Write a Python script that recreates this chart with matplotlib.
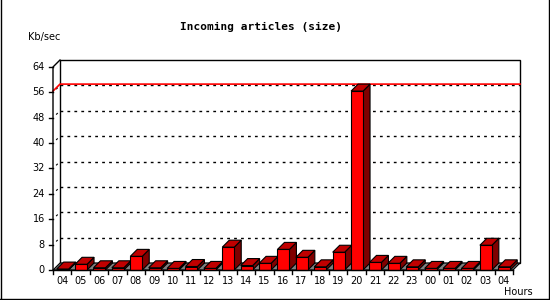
import matplotlib
matplotlib.use("Agg")
import matplotlib.pyplot as plt
from matplotlib.patches import Polygon, Rectangle
from matplotlib.lines import Line2D

# data
hours = ["04", "05", "06", "07", "08", "09", "10", "11", "12", "13", "14", "15", "16",
         "17", "18", "19", "20", "21", "22", "23", "00", "01", "02", "03", "04"]
kb_per_sec = [0.3, 1.8, 0.7, 0.7, 4.3, 0.7, 0.5, 1.1, 0.5, 7.2, 1.4, 2.1, 6.5,
              4.0, 1.0, 5.6, 56.4, 2.4, 2.1, 1.0, 0.5, 0.5, 0.5, 7.8, 1.0]
y_ticks = [0, 8, 16, 24, 32, 40, 48, 56, 64]
title = "Incoming articles (size)"

# 3d look
DX = 0.38      # depth offset in slots
DY = 2.2       # depth offset in value units
BAR_L, BAR_R = 0.2, 0.85
n = len(hours)
ymax = 64

fig = plt.figure(figsize=(5.5, 3), dpi=100)
fig.patch.set_facecolor("white")

# pixel layout of the plot block
ax = fig.add_axes([53 / 550, 30 / 300, 467 / 550, 210 / 300])
ax.set_xlim(0, n + DX)
ax.set_ylim(0, ymax + DY)
ax.axis("off")

kw = dict(clip_on=False)

# back wall
ax.add_patch(Rectangle((DX, DY), n, ymax, facecolor="white", edgecolor="black", lw=1, zorder=1, **kw))

# grid lines on back wall + short diagonals to front axis
for t in y_ticks[1:-1]:
    ax.plot([DX, n + DX], [t + DY, t + DY], color="black", lw=1, ls=(0, (2, 3)), zorder=2, **kw)
    ax.plot([0, DX], [t, t + DY], color="black", lw=0.8, ls=(4, (2, 6)), zorder=2, **kw)

# peak line
peak = max(kb_per_sec)
ax.plot([0, DX, n + DX], [peak, peak + DY, peak + DY], color="red", lw=1.2, zorder=3, **kw)

# floor
ax.add_patch(Polygon([(0, 0), (n, 0), (n + DX, DY), (DX, DY)], closed=True,
                     facecolor="#808080", edgecolor="black", lw=0.8, zorder=4, **kw))

# bars
for i, v in enumerate(kb_per_sec):
    x0, x1 = i + BAR_L, i + BAR_R
    z = 5 + i
    ax.add_patch(Polygon([(x1, 0), (x1 + DX, DY), (x1 + DX, v + DY), (x1, v)], closed=True,
                         facecolor="#800000", edgecolor="black", lw=0.8, zorder=z, **kw))
    ax.add_patch(Polygon([(x0, v), (x1, v), (x1 + DX, v + DY), (x0 + DX, v + DY)], closed=True,
                         facecolor="#C00000", edgecolor="black", lw=0.8, zorder=z, **kw))
    ax.add_patch(Rectangle((x0, 0), BAR_R - BAR_L, v, facecolor="#FF0000",
                           edgecolor="black", lw=0.8, zorder=z, **kw))

# front axes
ax.plot([0, 0, DX], [0, ymax, ymax + DY], color="black", lw=1, zorder=40, **kw)
ax.plot([0, n], [0, 0], color="black", lw=1, zorder=40, **kw)

# y ticks and labels
for t in y_ticks:
    ax.plot([-0.2, 0], [t, t], color="black", lw=1, zorder=40, **kw)
    ax.text(-0.45, t, str(t), ha="right", va="center", fontsize=7, family="DejaVu Sans")

# x ticks and labels
for i in range(n + 1):
    ax.plot([i, i], [0, -1.3], color="black", lw=1, zorder=40, **kw)
for i, h in enumerate(hours):
    ax.text(i + 0.5, -1.8, h, ha="center", va="top", fontsize=7, family="DejaVu Sans")

fig.text(261 / 550, 1 - 27 / 300, title, ha="center", va="center",
         fontsize=8, fontweight="bold", family="DejaVu Sans Mono")
fig.text(28 / 550, 1 - 37 / 300, "Kb/sec", ha="left", va="center", fontsize=7, family="DejaVu Sans")
fig.text(533 / 550, 1 - 292 / 300, "Hours", ha="right", va="center", fontsize=7, family="DejaVu Sans")

# image frame (left, right, bottom)
fig.add_artist(Line2D([0.5 / 550, 0.5 / 550], [0, 1], color="black", lw=1))
fig.add_artist(Line2D([549 / 550, 549 / 550], [0, 1], color="black", lw=1))
fig.add_artist(Line2D([0, 1], [1.5 / 300, 1.5 / 300], color="black", lw=1))

fig.savefig("out.png", dpi=100)
plt.close(fig)
